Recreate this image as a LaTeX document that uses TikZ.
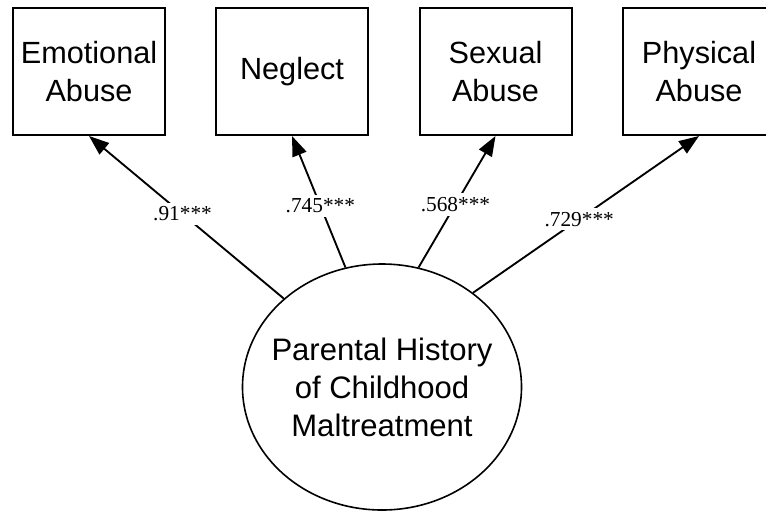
\documentclass[tikz,border=0pt]{standalone}
\usepackage{fontspec}
\setmainfont{Liberation Sans}
\newfontfamily\coeffont{Liberation Serif}
\usetikzlibrary{arrows.meta,shapes.geometric}

\begin{document}
\begin{tikzpicture}
    [
    x=0.75pt, y=-0.75pt,
    indicator/.style={
      rectangle,
      draw=black,
      line width=1.5pt,
      minimum width=114pt,
      minimum height=95.25pt,
      align=center,
      font=\fontsize{23}{28}\selectfont
    },
    latent/.style={
      ellipse,
      draw=black,
      line width=1.2pt,
      minimum width=209.25pt,
      minimum height=184.5pt,
      inner xsep=-14pt,
      inner ysep=0pt,
      align=center,
      font=\fontsize{23.3}{28.5}\selectfont
    },
    loading/.style={
      -{Triangle[length=15pt,width=11pt]},
      line width=1.4pt
    },
    coef/.style={
      fill=white,
      inner sep=3pt,
      font=\coeffont\fontsize{16}{18}\selectfont
    }]
    \useasboundingbox (0,0) rectangle (766,512);
    \clip (0,0) rectangle (766,512);
    % observed indicators
    \node (emo) at (89,71.5) [indicator] {Emotional\\Abuse};
    \node (neg) at (292,71.5) [indicator] {Neglect};
    \node (sex) at (495.5,71.5) [indicator] {Sexual\\Abuse};
    \node (phy) at (699,71.5) [indicator] {Physical\\Abuse};
    % latent factor
    \node (pach) at (382,387) [latent] {Parental History\\of Childhood\\Maltreatment};
    % loadings
    \draw [loading] (pach.138.9) -- node [coef, pos=0.52] {.91***} (emo.south);
    \draw [loading] (pach.107.4) -- node [coef, pos=0.47] {.745***} (neg.south);
    \draw [loading] (pach.73.6) -- node [coef, pos=0.48] {.568***} (sex.south);
    \draw [loading] (pach.46.2) -- node [coef, pos=0.47] {.729***} (phy.south);
  \end{tikzpicture}
\end{document}
